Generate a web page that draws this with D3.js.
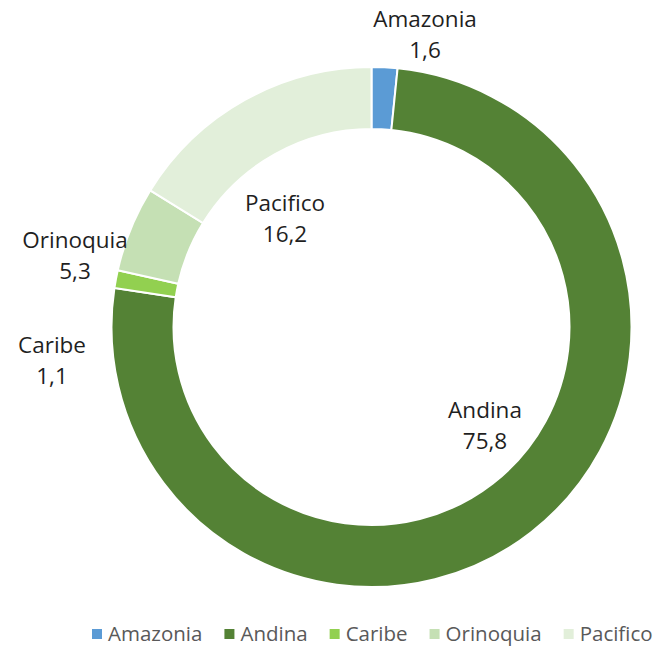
<!DOCTYPE html>
<html><head><meta charset="utf-8">
<script src="https://cdn.jsdelivr.net/npm/d3@7"></script>
<style>html,body{margin:0;padding:0;background:#fff;overflow:hidden}</style>
</head><body>
<svg id="c" width="656" height="647"></svg>
<script>
const categories = ["Amazonia", "Andina", "Caribe", "Orinoquia", "Pacifico"];
const values = [1.6, 75.8, 1.1, 5.3, 16.2];
const valueLabels = ["1,6", "75,8", "1,1", "5,3", "16,2"];
const colors = ["#5B9BD5", "#548235", "#92D050", "#C5E0B4", "#E2EFDA"];
// label anchor points (center x, first baseline)
const labelPos = [[425, 27], [485, 418], [52, 353], [75, 248], [285, 211]];

const svg = d3.select("#c");
const font = "'Open Sans', 'Noto Sans', sans-serif";
const cx = 371.5, cy = 327, R = 260, r = 198;

const data = categories.map((c, i) => ({cat: c, v: values[i], lab: valueLabels[i], col: colors[i], pos: labelPos[i]}));
const pie = d3.pie().sort(null).value(d => d.v);
const arc = d3.arc().innerRadius(r).outerRadius(R);

const g = svg.append("g").attr("transform", `translate(${cx},${cy})`);
g.selectAll("path").data(pie(data)).join("path")
  .attr("d", arc).attr("fill", d => d.data.col)
  .attr("stroke", "#fff").attr("stroke-width", 2);

const lab = svg.append("g").attr("font-family", font).attr("font-size", 22.5).attr("fill", "#1f1f1f").attr("text-anchor", "middle");
data.forEach(d => {
  const t = lab.append("text").attr("x", d.pos[0]).attr("y", d.pos[1]);
  t.append("tspan").attr("x", d.pos[0]).text(d.cat);
  t.append("tspan").attr("x", d.pos[0]).attr("dy", 31).text(d.lab);
});

const leg = svg.append("g").attr("font-family", font).attr("font-size", 20.5).attr("fill", "#595959");
let x = 92;
data.forEach(d => {
  leg.append("rect").attr("x", x).attr("y", 629).attr("width", 10).attr("height", 10).attr("fill", d.col);
  const t = leg.append("text").attr("x", x + 16).attr("y", 641).text(d.cat);
  x += 16 + t.node().getComputedTextLength() + 22;
});
</script>
</body></html>
